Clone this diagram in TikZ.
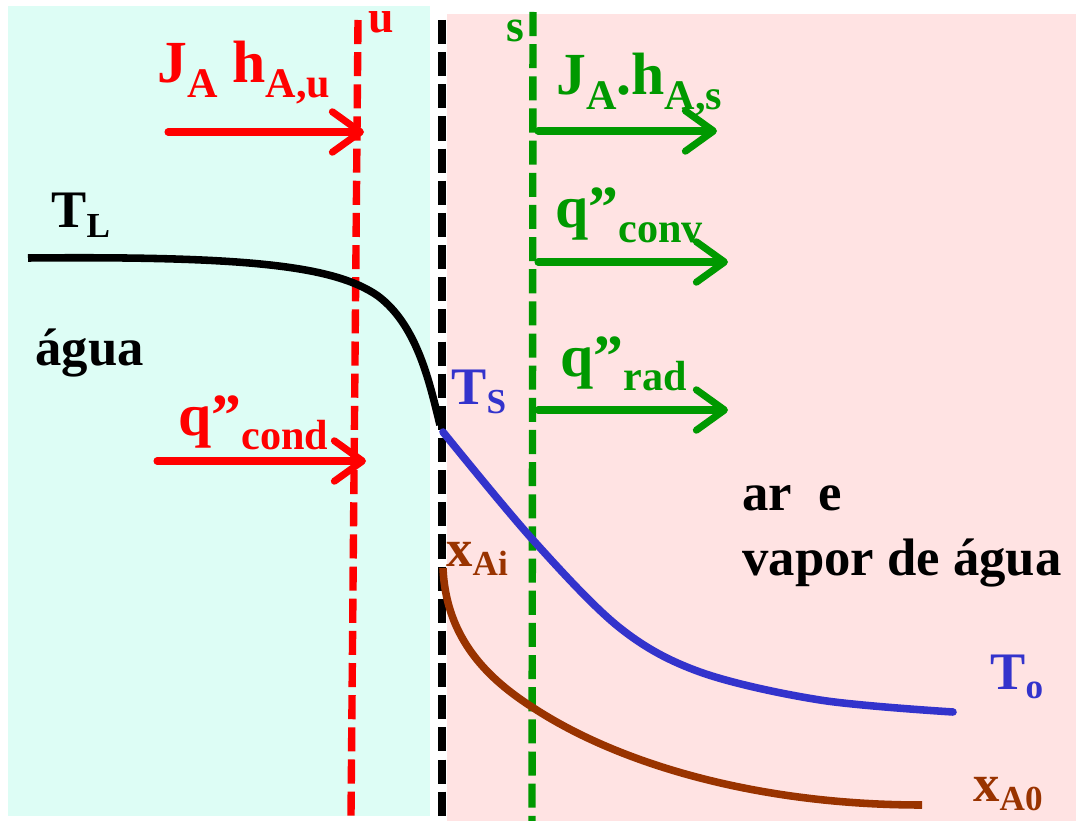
\documentclass[tikz,border=0pt]{standalone}
\usepackage{fontspec}
\setmainfont{Liberation Serif}
\usetikzlibrary{arrows.meta}
\definecolor{bgcyan}{HTML}{DDFDF5}
\definecolor{bgpink}{HTML}{FFE3E3}
\definecolor{myred}{HTML}{FF0000}
\definecolor{mygreen}{HTML}{009900}
\definecolor{myblue}{HTML}{3333CC}
\definecolor{mybrown}{HTML}{993300}
% subscripts: large labels / small labels
\newcommand\lo[1]{\raisebox{-8.5pt}{\fontsize{24}{24}\selectfont #1}}
\newcommand\los[1]{\raisebox{-5.5pt}{\fontsize{20}{20}\selectfont #1}}
\newcommand\flowfont{\fontsize{34}{36}\selectfont\bfseries}
\newcommand\txtfont{\fontsize{30}{32}\selectfont\bfseries}
\tikzset{
  lbl/.style={inner sep=0pt, anchor=base west, font=\flowfont},
  tlbl/.style={inner sep=0pt, anchor=base west, font=\txtfont},
  dline/.style={line width=4.2pt, dash pattern=on 13.7pt off 4.6pt},
  flow/.style={line width=4pt, line cap=round, -{Straight Barb[length=16pt,width=23pt,line width=4pt,round]}},
  curve/.style={line width=4.3pt},
}
\begin{document}
\begin{tikzpicture}[x=0.02cm,y=-0.02cm]
\useasboundingbox (0,0) rectangle (1076,821);
% backgrounds
\fill[bgcyan] (8,6) rectangle (430,816);
\fill[bgpink] (447,14) rectangle (1076,821);
% dashed boundaries
\coordinate (u1) at (358,20); \coordinate (u2) at (351,816);
\coordinate (b1) at (442,20); \coordinate (b2) at (442,821);
\coordinate (s1) at (533,12); \coordinate (s2) at (532,821);
\draw[dline, myred] (u1) -- (u2);
\draw[dline, black] (b1) -- (b2);
\draw[dline, mygreen] (s1) -- (s2);
% labels of surfaces
\node[tlbl, text=myred, font=\fontsize{26}{26}\selectfont\bfseries] (ulbl) at (368,33) {u};
\node[tlbl, text=mygreen, font=\fontsize{26}{26}\selectfont\bfseries] (slbl) at (506,42) {s};
% red arrows
\coordinate (ra1) at (168,132); \coordinate (ra1e) at (364,132);
\coordinate (ra2) at (157,461); \coordinate (ra2e) at (366,461);
\draw[flow, myred] (ra1) -- (ra1e);
\draw[flow, myred] (ra2) -- (ra2e);
\node[lbl, text=myred] (jhu) at (157,83) {J\lo{A} h\lo{A,u}};
\node[lbl, text=myred] (qcond) at (178,435) {q”\lo{cond}};
% green arrows
\coordinate (ga1) at (538,131); \coordinate (ga1e) at (717,131);
\coordinate (ga2) at (538,262); \coordinate (ga2e) at (728,262);
\coordinate (ga3) at (538,410); \coordinate (ga3e) at (728,410);
\draw[flow, mygreen] (ga1) -- (ga1e);
\draw[flow, mygreen] (ga2) -- (ga2e);
\draw[flow, mygreen] (ga3) -- (ga3e);
\node[lbl, text=mygreen] (jhs) at (556,95) {J\lo{A}.h\lo{A,s}};
\node[lbl, text=mygreen] (qconv) at (555,228) {q”\lo{conv}};
\node[lbl, text=mygreen] (qrad) at (560,376) {q”\lo{rad}};
% temperature curves
\draw[curve, black] (28,258) .. controls (250,256) and (335,266) .. (378,296)
   .. controls (418,326) and (430,385) .. (440,425);
\draw[curve, myblue, line cap=round] plot[smooth, tension=0.55] coordinates
   {(443,432) (533,540) (620,628) (700,672) (820,700) (953,712)};
\draw[curve, mybrown] (443,568) .. controls (446,640) and (490,680) .. (532,707)
   .. controls (620,765) and (760,805) .. (922,805);
% labels
\node[tlbl] (TL) at (51,228) {T\los{L}};
\node[tlbl] (agua) at (35,365) {água};
\node[tlbl, text=myblue] (TS) at (451,404) {T\los{S}};
\node[tlbl, text=mybrown] (xAi) at (446,566) {x\los{Ai}};
\node[tlbl, text=myblue] (To) at (990,689) {T\los{o}};
\node[tlbl, text=mybrown] (xA0) at (973,801) {x\los{A0}};
\node[tlbl] (are) at (742,510) {ar\ \ e};
\node[tlbl] (vapor) at (742,575) {vapor de água};
\end{tikzpicture}
\end{document}
